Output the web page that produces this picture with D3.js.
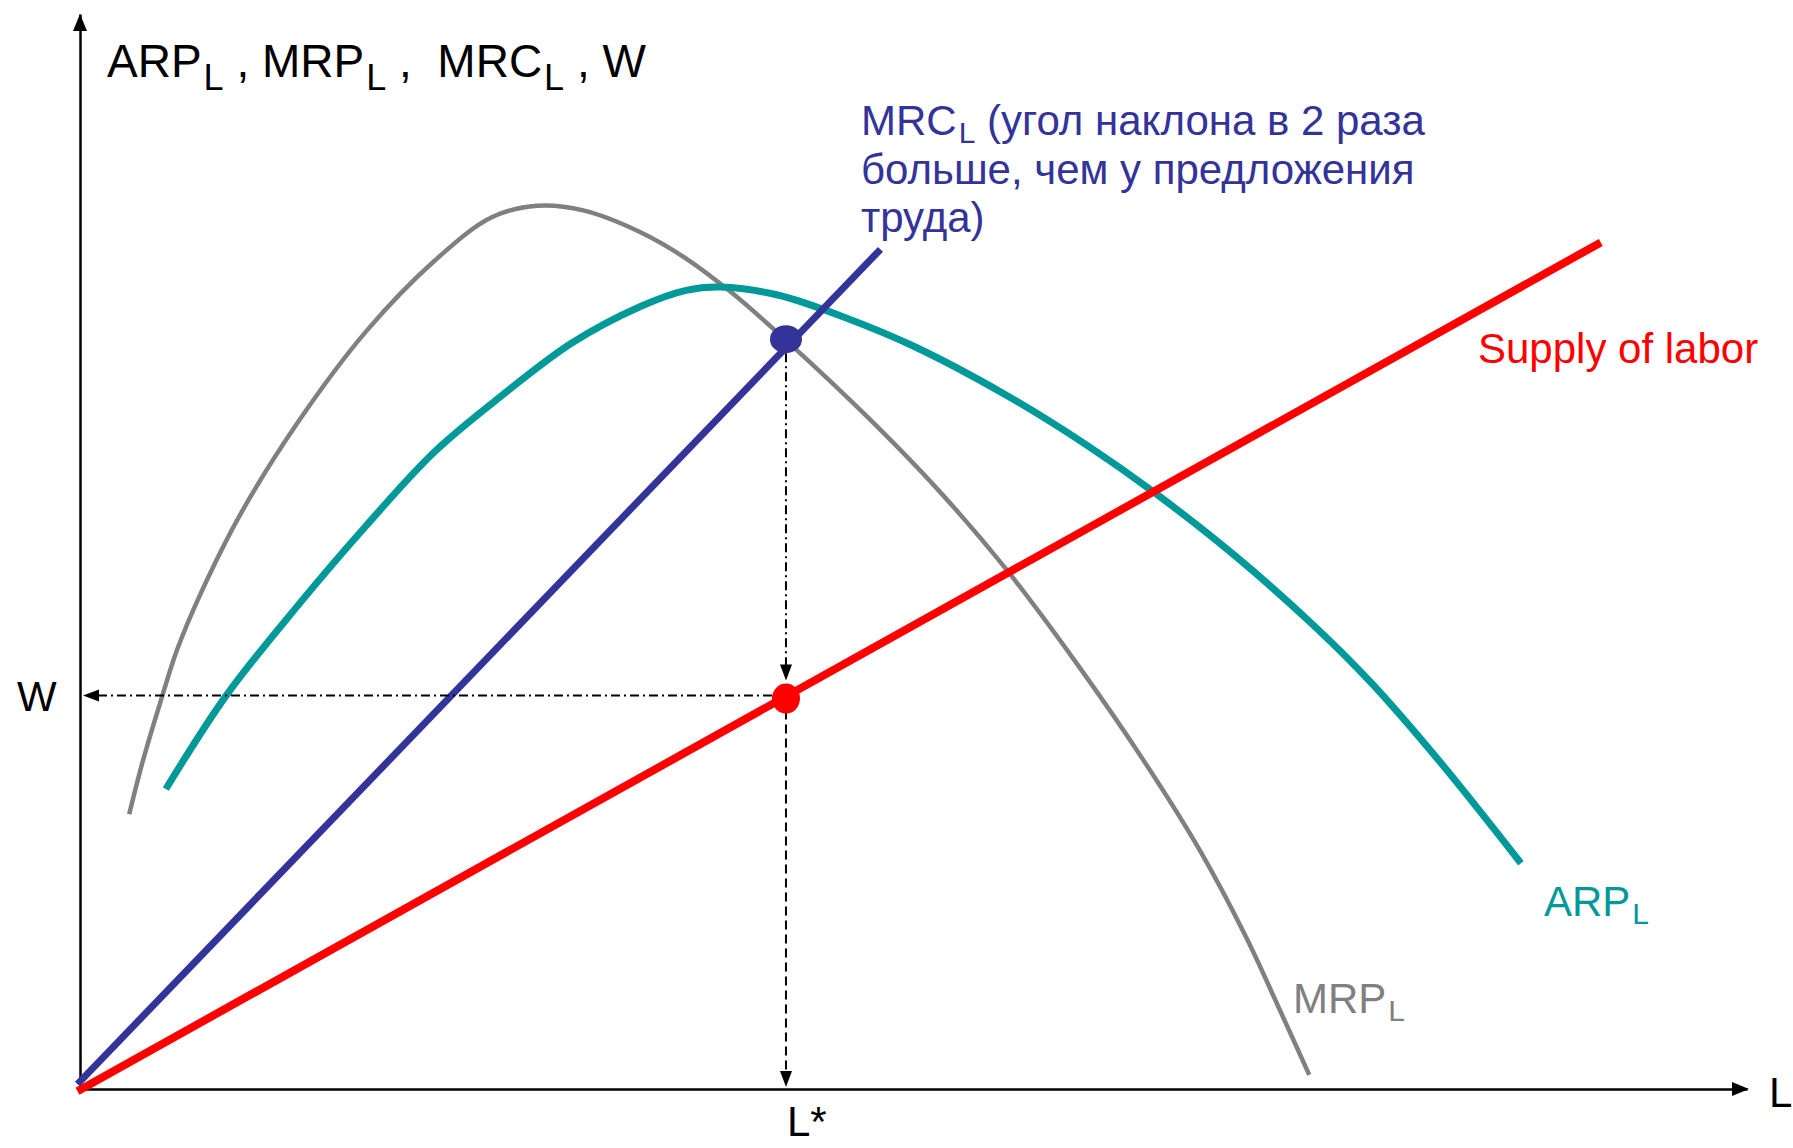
<!DOCTYPE html>
<html><head><meta charset="utf-8">
<script src="https://cdn.jsdelivr.net/npm/d3@7"></script>
<style>
body{margin:0;background:#fff}
svg{display:block}
text{font-family:"Liberation Sans",Arial,sans-serif;white-space:pre}
</style>
</head><body>
<svg id="c" width="1793" height="1148"></svg>
<script>
// ---- data (abstract units: L 0..100, value 0..100) ----
const mrpL   = [2.95,3.78,4.80,5.83,7.21,9.61,13.04,17.15,21.27,24.70,27.44,30.19,33.62,36.36,39.10,42.39,47.34,51.45,55.57,59.68,63.80,67.23,69.97,72.03,73.74];
const mrpVal = [25.56,30.57,35.88,40.88,45.99,53.43,61.95,70.45,77.05,81.09,82.16,81.73,79.70,77.25,74.06,69.60,62.36,55.78,48.33,39.82,30.57,22.06,14.07,7.16,1.31];
const arpL   = [5.15,8.78,13.04,17.15,21.27,25.38,29.50,33.62,36.36,38.42,41.85,45.96,50.08,55.57,60.37,64.48,69.29,74.09,77.52,81.63,86.44];
const arpVal = [27.91,36.62,44.92,52.37,59.28,64.60,69.39,72.79,74.29,74.60,73.86,71.73,69.05,64.54,59.92,55.45,49.60,43.00,37.68,30.34,21.00];
const mrcL   = [-0.15,48.02];
const mrcVal = [0.45,78.11];
const supplyL   = [-0.15,91.23];
const supplyVal = [-0.2,78.75];
const Lstar = 42.35;      // equilibrium employment
const wage  = 36.6;       // equilibrium wage
const mrcAtLstar = 69.75; // MRC at L*
const tickLabels = ["L*","W"];
const axisLabels = ["L"];

// ---- scales ----
const svg = d3.select("#c");
const x = d3.scaleLinear().domain([0,100]).range([80,1747]);
const y = d3.scaleLinear().domain([0,100]).range([1089,14]);

// ---- axes ----
svg.append("g").attr("transform",`translate(0,${y(0)})`)
  .call(d3.axisBottom(x).tickValues([]).tickSizeOuter(0))
  .call(g=>g.select(".domain").attr("stroke","#000").attr("stroke-width",2.5));
svg.append("g").attr("transform",`translate(${x(0)},0)`)
  .call(d3.axisLeft(y).tickValues([]).tickSizeOuter(0))
  .call(g=>g.select(".domain").attr("stroke","#000").attr("stroke-width",2.5));

function arrow(tx,ty,dir,len=16,half=6){
  let p;
  if(dir==="right") p=[[tx,ty],[tx-len,ty-half],[tx-len,ty+half]];
  if(dir==="left")  p=[[tx,ty],[tx+len,ty-half],[tx+len,ty+half]];
  if(dir==="up")    p=[[tx,ty],[tx-half,ty+len],[tx+half,ty+len]];
  if(dir==="down")  p=[[tx,ty],[tx-half,ty-len],[tx+half,ty-len]];
  svg.append("path").attr("d","M"+p.map(d=>d.join(",")).join("L")+"Z").attr("fill","#000");
}
arrow(x(100)+2,y(0),"right",17,7);
arrow(x(0),y(100),"up",17,7);

// ---- curves ----
const line = d3.line().x(d=>x(d[0])).y(d=>y(d[1])).curve(d3.curveCatmullRom.alpha(0.5));
svg.append("path").attr("d",line(d3.zip(mrpL,mrpVal)))
  .attr("fill","none").attr("stroke","#808080").attr("stroke-width",4.5);
svg.append("path").attr("d",line(d3.zip(arpL,arpVal)))
  .attr("fill","none").attr("stroke","#009999").attr("stroke-width",7);
const straight = d3.line().x(d=>x(d[0])).y(d=>y(d[1]));
svg.append("path").attr("d",straight(d3.zip(mrcL,mrcVal)))
  .attr("fill","none").attr("stroke","#333399").attr("stroke-width",7);
svg.append("path").attr("d",straight(d3.zip(supplyL,supplyVal)))
  .attr("fill","none").attr("stroke","#ff0000").attr("stroke-width",8);

// ---- guide lines ----
const gx = x(Lstar);
svg.append("line").attr("x1",gx-14).attr("x2",x(0)+18).attr("y1",y(wage)).attr("y2",y(wage))
  .attr("stroke","#000").attr("stroke-width",2).attr("stroke-dasharray","9,4,2,4");
arrow(x(0)+3,y(wage),"left",16,6);
svg.append("line").attr("x1",gx).attr("x2",gx).attr("y1",y(mrcAtLstar)+14).attr("y2",y(wage)-30)
  .attr("stroke","#000").attr("stroke-width",2).attr("stroke-dasharray","9,4,2,4");
arrow(gx,y(wage)-15,"down",16,6);
svg.append("line").attr("x1",gx).attr("x2",gx).attr("y1",y(wage)+15).attr("y2",y(0)-18)
  .attr("stroke","#000").attr("stroke-width",2).attr("stroke-dasharray","9,5");
arrow(gx,y(0)-2,"down",16,6);

// ---- equilibrium points ----
svg.append("ellipse").attr("cx",gx).attr("cy",y(mrcAtLstar)).attr("rx",16).attr("ry",14).attr("fill","#333399");
svg.append("ellipse").attr("cx",gx).attr("cy",y(wage)+3).attr("rx",14).attr("ry",15).attr("fill","#ff0000");

// ---- text ----
function label(xp,yp,size,color,parts,subSize,subDy){
  const t=svg.append("text").attr("x",xp).attr("y",yp).attr("font-size",size).attr("fill",color);
  let down=false;
  parts.forEach(p=>{
    if(p.sub){ t.append("tspan").attr("font-size",subSize).attr("dy",subDy).attr("dx",2).text(p.t); down=true; }
    else { const s=t.append("tspan").text(p.t); if(down){s.attr("dy",-subDy); down=false;} }
  });
  return t;
}
label(107,77,46,"#000",[{t:"ARP"},{t:"L",sub:1},{t:" , MRP"},{t:"L",sub:1},{t:" ,  MRC"},{t:"L",sub:1},{t:" , W"}],36,13);
label(861,135,42,"#333399",[{t:"MRC"},{t:"L",sub:1},{t:" (угол наклона в 2 раза"}],30,8);
label(861,184,42,"#333399",[{t:"больше, чем у предложения"}]);
label(861,232,42,"#333399",[{t:"труда)"}]);
label(1478,363,42,"#ff0000",[{t:"Supply of labor"}]);
label(1544,916,42,"#009999",[{t:"ARP"},{t:"L",sub:1}],30,8);
label(1293,1013,42,"#808080",[{t:"MRP"},{t:"L",sub:1}],30,8);
label(17,711,42,"#000",[{t:tickLabels[1]}]);
label(787,1136,42,"#000",[{t:tickLabels[0]}]);
label(1769,1107,42,"#000",[{t:axisLabels[0]}]);
</script>
</body></html>
